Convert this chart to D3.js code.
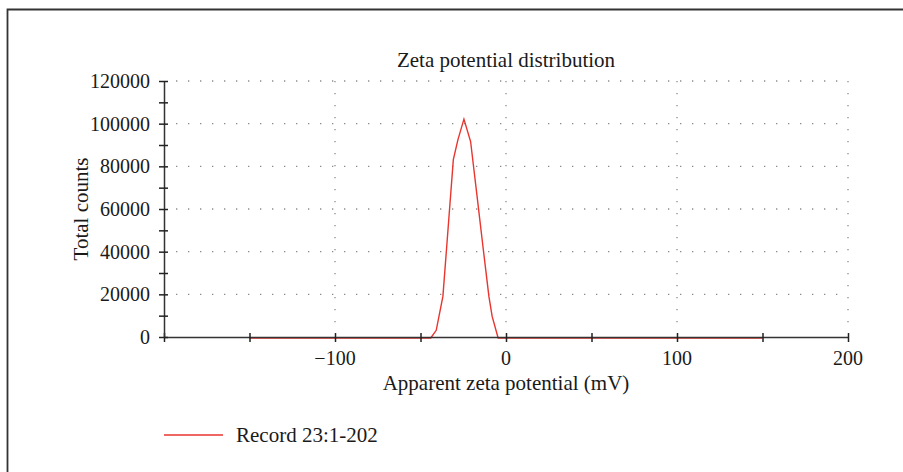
<!DOCTYPE html>
<html>
<head>
<meta charset="utf-8">
<script src="https://cdn.jsdelivr.net/npm/d3@7"></script>
<style>
  body { margin: 0; background: #fff; }
  text { font-family: "Liberation Serif", "Times New Roman", serif; fill: #1a1a1a; }
</style>
</head>
<body>
<div class="chart"></div>
<script>
// Zeta potential distribution

// DATA-------------------------
const zeta = [-150, -44, -40.8, -36.9, -33.8, -30.8, -28.1, -24.6, -20.7, -17, -13.5, -10, -8.1, -4.6, 150];
const counts = [0, 0, 3600, 19500, 52000, 83600, 93000, 102600, 92100, 67000, 43000, 19500, 10100, 0, 0];
const xTicks = [-100, 0, 100, 200];
const xMinor = [-200, -150, -100, -50, 0, 50, 100, 150, 200];
const yTicks = [0, 20000, 40000, 60000, 80000, 100000, 120000];
const yMinor = d3.range(0, 120001, 10000);
const seriesName = "Record 23:1-202";

// CHART INIT-------------------------
const W = 903, H = 472;
const margin = {top: 81, right: 55, bottom: 135, left: 164};
const width = W - margin.left - margin.right;
const height = H - margin.top - margin.bottom;

const root = d3.select('.chart')
    .append('svg')
    .attr("width", W)
    .attr("height", H);

// frame (cropped, only top and left edges visible)
root.append("path")
    .attr("d", `M7.5,${H + 5} L7.5,9.5 L${W + 5},9.5`)
    .attr("fill", "none")
    .attr("stroke", "#333")
    .attr("stroke-width", 1.8);

const svg = root.append("g")
    .attr("transform", `translate(${margin.left},${margin.top})`);

const x = d3.scaleLinear().domain([-200, 200]).range([0, width]);
const y = d3.scaleLinear().domain([0, 120000]).range([height, 0]);

// grid
svg.append("g").selectAll("line")
    .data(yTicks.slice(1))
    .join("line")
    .attr("x1", x(-200) + 6).attr("x2", x(200))
    .attr("y1", d => y(d)).attr("y2", d => y(d))
    .attr("stroke", "#8a8a8a")
    .attr("stroke-width", 1.3)
    .attr("stroke-dasharray", "1.3,10.7")
    .attr("stroke-dashoffset", -6);

svg.append("g").selectAll("line")
    .data(xTicks)
    .join("line")
    .attr("x1", d => x(d)).attr("x2", d => x(d))
    .attr("y1", y(120000)).attr("y2", y(0) - 4)
    .attr("stroke", "#8a8a8a")
    .attr("stroke-width", 1.3)
    .attr("stroke-dasharray", "1.3,10.7");

// data line
const line = d3.line()
    .x((d, i) => x(zeta[i]))
    .y(d => y(d));

svg.append("path")
    .datum(counts)
    .attr("d", line)
    .attr("transform", "translate(0,1)")
    .attr("fill", "none")
    .attr("stroke", "#e8352e")
    .attr("stroke-width", 1.4);

// axes
const xAxis = d3.axisBottom(x)
    .tickValues(xMinor)
    .tickSize(0)
    .tickFormat("");

const yAxis = d3.axisLeft(y)
    .tickValues(yMinor)
    .tickSize(0)
    .tickFormat("");

const gx = svg.append("g")
    .attr("class", "axis x-axis")
    .attr("transform", `translate(0, ${height})`)
    .call(xAxis);
gx.select(".domain").attr("stroke", "#333").attr("stroke-width", 1.5);
gx.selectAll(".tick line").attr("y1", -4).attr("y2", 5)
    .attr("stroke", "#222").attr("stroke-width", 1.5);

const gy = svg.append("g")
    .attr("class", "axis y-axis")
    .call(yAxis);
gy.select(".domain").attr("stroke", "#333").attr("stroke-width", 1.5);
gy.selectAll(".tick line").attr("x1", -5).attr("x2", 4)
    .attr("stroke", "#222").attr("stroke-width", 1.5);

// tick labels
svg.append("g").selectAll("text")
    .data(xTicks)
    .join("text")
    .attr("x", d => x(d))
    .attr("y", height + 28)
    .attr("text-anchor", "middle")
    .attr("font-size", "20px")
    .text(d => d < 0 ? "\u2212" + Math.abs(d) : d);

svg.append("g").selectAll("text")
    .data(yTicks)
    .join("text")
    .attr("x", -14)
    .attr("y", d => y(d) + 7)
    .attr("text-anchor", "end")
    .attr("font-size", "20px")
    .text(d => d);

// titles
svg.append("text")
    .attr("x", x(0))
    .attr("y", -14)
    .attr("text-anchor", "middle")
    .attr("font-size", "21px")
    .text("Zeta potential distribution");

svg.append("text")
    .attr("x", x(0))
    .attr("y", height + 53)
    .attr("text-anchor", "middle")
    .attr("font-size", "21px")
    .text("Apparent zeta potential (mV)");

svg.append("text")
    .attr("transform", `translate(${88 - margin.left},${209 - margin.top}) rotate(-90)`)
    .attr("text-anchor", "middle")
    .attr("font-size", "21px")
    .text("Total counts");

// legend
const legend = root.append("g").attr("transform", "translate(164,435)");
legend.append("line")
    .attr("x1", 0).attr("x2", 59)
    .attr("stroke", "#e8352e")
    .attr("stroke-width", 1.4);
legend.append("text")
    .attr("x", 72)
    .attr("y", 7)
    .attr("font-size", "21px")
    .text(seriesName);
</script>
</body>
</html>
